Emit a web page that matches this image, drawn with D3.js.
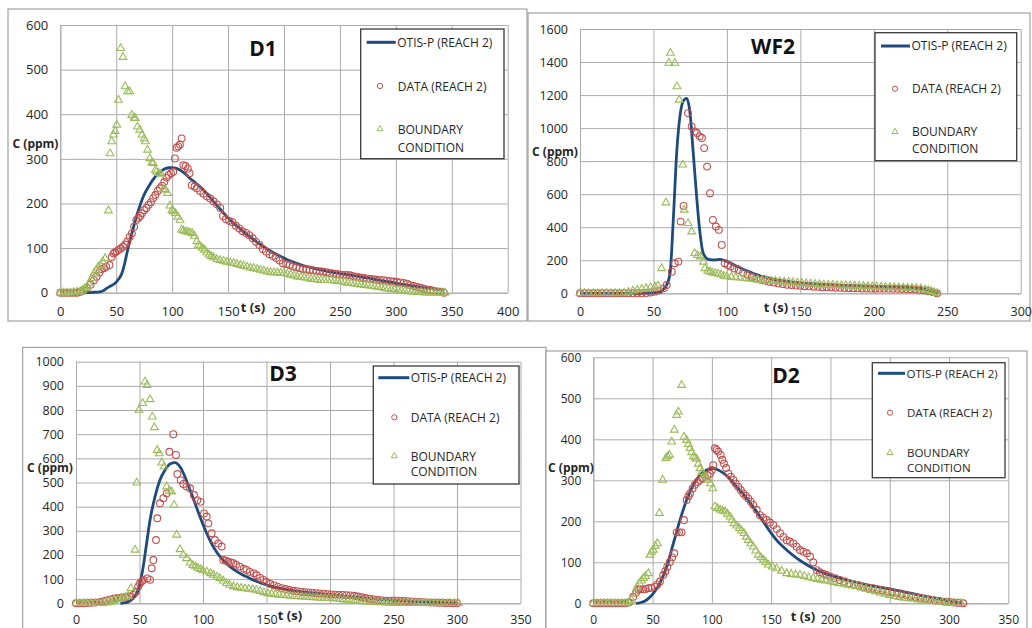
<!DOCTYPE html>
<html>
<head>
<meta charset="utf-8">
<script src="https://cdn.jsdelivr.net/npm/d3@7"></script>
<style>
  html, body { margin: 0; padding: 0; background: #fff; }
  svg { display: block; font-family: "Open Sans", "DejaVu Sans", sans-serif; }
</style>
</head>
<body>
<svg id="chart" width="1032" height="628"></svg>
<script>
// ---- data: [t (s), C (ppm)] ----
const seriesNames = ["OTIS-P (REACH 2)", "DATA (REACH 2)", "BOUNDARY", "CONDITION"];

const d1XTicks = [0, 50, 100, 150, 200, 250, 300, 350, 400];
const d1YTicks = [0, 100, 200, 300, 400, 500, 600];
const d1Model = [[20,0],[25,0],[30,1],[35,2],[38,4],[41,9],[45,15],[49,21],[52,30],[55,43],[57,60],[59.5,88],[62,115],[64,133],[66,152],[68,170],[70,186],[73,208],[76,225],[79,238],[82,250],[85,260],[88,268],[91,274],[94,278],[97,280],[100,280],[103,279],[107,275],[111,268],[116,256],[121,246],[126,235],[131,222],[137,204],[143,187],[149,170],[155,156],[161,143],[167,130],[173,119],[179,108],[185,98],[191,89],[197,81],[203,74],[210,67],[217,61],[225,56],[235,50],[245,45],[255,41],[265,37],[275,33],[285,28],[295,24],[305,19],[315,15],[325,11],[335,8],[343,6]];
const d1Data = [[0,0],[3,0],[6,0],[9,0],[12,0],[15,0],[18,2],[21,5],[24,10],[27,18],[30,28],[32.5,36],[35,45],[37,53],[39,55],[41,58],[44,62],[46,80],[47.5,88],[49,90],[50.5,93],[52,96],[54,99],[56,103],[58,108],[60,115],[62,125],[64,133],[66,148],[68,163],[70,168],[71.5,172],[73,178],[75,185],[77,190],[79,197],[81,203],[83,212],[85,219],[87,228],[89,234],[91,240],[93,248],[95,258],[97,264],[99,268],[101,271],[102.5,301],[104,325],[105.5,328],[107,332],[108.5,346],[110,286],[112,284],[114,278],[115.5,268],[117.5,241],[120,238],[122,234],[125,228],[128,222],[131,216],[134,211],[137,205],[140,198],[143,190],[145.5,172],[148,165],[151,161],[154,158],[157,150],[160,144],[163,138],[166,134],[169,129],[172,122],[175,114],[178,107],[181,98],[184,92],[187,86],[190,82],[193,78],[196,72],[199,66],[202,64],[205,62],[208,59],[211,57],[214,55],[217,53],[220,52],[223,51],[226,50],[229,49],[232,48],[235,47],[238,46],[241,44],[244,43],[247,42],[250,41],[253,40],[256,40],[259,39],[262,37],[265,36],[268,34],[271,33],[274,32],[277,31],[280,30],[283,29],[286,28],[289,28],[292,27],[295,26],[298,25],[301,24],[304,23],[307,22],[310,20],[313,17],[316,15],[319,13],[322,11],[325,9],[328,7],[331,6],[334,4],[337,3],[340,2],[343,0]];
const d1Boundary = [[0,0],[3,0],[6,0],[9,0],[12,1],[15,2],[18,3],[20,6],[22,10],[24,14],[26,22],[28,32],[30,43],[32,50],[34,58],[36,62],[38,70],[40,77],[43,184],[44.5,312],[46,339],[47.5,354],[49,362],[50.5,376],[52,432],[54,548],[56,528],[58,462],[60,451],[62,451],[64,398],[66,392],[67,391],[69,372],[71,365],[73,354],[75,345],[76,339],[78,320],[80,301],[82,292],[83,290],[85,275],[86,271],[88,268],[90,266],[92,232],[94,230],[96,223],[98,195],[100,185],[101,182],[103,178],[105,170],[107,163],[108.5,141],[110,139],[112,137],[114,136],[116,135],[118,133],[120,127],[122,115],[123.5,107],[125,104],[127,100],[129,96],[131,90],[133,85],[135,82],[137,79],[140,75],[143,73],[146,71],[149,69],[152,67],[155,66],[158,64],[161,62],[164,60],[167,58],[170,56],[173,55],[176,53],[179,51],[182,49],[185,47],[188,46],[191,45],[194,45],[197,44],[200,44],[203,42],[206,40],[209,38],[212,36],[215,35],[218,34],[221,33],[224,31],[227,30],[230,29],[233,28],[236,28],[239,28],[242,28],[245,27],[248,26],[251,25],[254,24],[257,22],[260,21],[263,20],[266,19],[269,18],[272,17],[275,16],[278,15],[281,14],[284,13],[287,12],[290,10],[293,9],[296,8],[299,7],[302,6],[305,5],[308,4],[311,3],[314,2],[317,2],[320,1],[323,1],[326,0],[329,0],[332,0],[335,0],[338,0],[341,0],[344,0]];

const wf2XTicks = [0, 50, 100, 150, 200, 250, 300];
const wf2YTicks = [0, 200, 400, 600, 800, 1000, 1200, 1400, 1600];
const wf2Model = [[0,0],[20,0],[40,0],[50,2],[55,10],[57,25],[59,50],[61.3,121],[63.5,444],[65.8,848],[68,1070],[70.8,1171],[72.6,1180],[74.9,1091],[77.1,848],[79.4,585],[81.7,364],[83.9,242],[87.3,206],[91.9,202],[95,205],[98,200],[101,190],[104,176],[107,163],[110,150],[114,135],[118,120],[122,108],[127,95],[132,85],[138,76],[145,68],[152,62],[160,57],[170,52],[180,48],[190,45],[200,42],[210,39],[220,36],[228,32],[234,25],[238,17],[241,9],[244,2]];
const wf2Data = [[0,0],[3,0],[6,0],[9,0],[12,0],[15,0],[18,0],[21,0],[24,0],[27,0],[30,0],[33,0],[36,0],[39,0],[42,0],[45,2],[48,5],[51,10],[54,18],[57,30],[59,50],[62.5,131],[64.5,182],[67,192],[68.5,434],[70.5,529],[73.5,1091],[76,1010],[78,980],[79.5,970],[81.5,950],[83,940],[84.5,879],[86.5,767],[88.5,606],[90.5,444],[92.5,404],[94.5,384],[96.5,293],[98.5,182],[100.5,172],[102.5,162],[105,150],[108,141],[111,125],[114,112],[117,100],[120,90],[123,82],[126,76],[129,70],[132,65],[135,60],[138,56],[141,52],[144,50],[147,47],[150,45],[153,43],[156,42],[159,40],[162,39],[165,37],[168,36],[171,35],[174,34],[177,33],[180,32],[183,31],[186,30],[189,30],[192,29],[195,29],[198,28],[201,28],[204,28],[207,28],[210,28],[213,27],[216,27],[219,26],[222,26],[225,25],[228,24],[231,22],[234,18],[237,14],[240,8],[243,0]];
const wf2Boundary = [[0,0],[3,0],[6,0],[9,0],[12,0],[15,0],[18,0],[21,0],[24,0],[27,0],[30,2],[33,8],[36,15],[39,20],[42,25],[45,30],[48,35],[51,40],[53,45],[55.5,151],[58.5,549],[60.5,1394],[61.5,1455],[64.5,1394],[66,1252],[67.5,1171],[70,778],[71,505],[73.5,424],[76,373],[78,242],[80,230],[82,222],[84,190],[85,151],[87,135],[88.5,131],[90,125],[92,121],[94,118],[96,112],[98,105],[100,102],[103,98],[106,96],[109,94],[112,91],[115,88],[118,85],[121,82],[124,80],[127,78],[130,76],[133,74],[136,72],[139,70],[142,68],[145,66],[148,64],[151,62],[154,60],[157,58],[160,56],[163,54],[166,52],[169,51],[172,50],[175,49],[178,48],[181,47],[184,46],[187,45],[190,44],[193,43],[196,42],[199,41],[202,40],[205,39],[208,38],[211,37],[214,36],[217,35],[220,34],[223,33],[226,32],[229,30],[232,28],[235,22],[237,18],[239,12],[241,6],[243,0]];

const d3XTicks = [0, 50, 100, 150, 200, 250, 300, 350];
const d3YTicks = [0, 100, 200, 300, 400, 500, 600, 700, 800, 900, 1000];
const d3Model = [[35,0],[40,4],[45,21],[49,55],[52.5,138],[55.6,248],[58.3,345],[62.2,441],[66.1,510],[70.1,552],[74,577],[78,582],[81.9,565],[85.8,524],[89.8,469],[93.7,414],[97.6,358],[102.9,290],[108.1,234],[113.4,193],[121.3,152],[129,124],[137,103],[143,89],[150,76],[158,65],[167,56],[176,48],[189,41],[202,35],[215,28],[229,21],[242,15],[255,11],[268,7],[281,4],[292,2],[301,0]];
const d3Data = [[0,0],[3,0],[6,0],[9,1],[12,2],[15,3],[18,5],[21,8],[24,12],[27,16],[30,20],[33,22],[36,24],[39,26],[42,28],[45,35],[47.2,48],[49,70],[50.4,83],[52,92],[53,97],[56.2,103],[58.3,97],[59.6,145],[60.9,179],[63,262],[64,352],[66.1,414],[68.8,435],[71.4,455],[73.5,627],[76.6,700],[78.7,614],[79.8,535],[82.4,510],[84.5,494],[87.1,483],[89.8,476],[92.9,448],[95.5,427],[98.1,420],[100.8,372],[102.9,359],[104.2,331],[106.8,290],[109.4,262],[112,248],[114.7,235],[116,179],[118,176],[119.9,172],[122,169],[123.9,166],[126,160],[129,152],[132,143],[134.3,138],[137,130],[140,124],[142.3,116],[145,105],[147.6,97],[150,88],[153,80],[156,74],[159,68],[162,63],[165,59],[168,55],[171,52],[174,50],[177,48],[180,46],[183,45],[186,44],[189,42],[192,41],[195,40],[198,38],[201,37],[204,36],[207,35],[210,35],[213,34],[216,33],[219,31],[222,28],[225,25],[228,22],[231,19],[234,17],[237,15],[240,13],[243,11],[246,11],[249,11],[252,11],[255,10],[258,10],[261,9],[264,8],[267,7],[270,6],[273,5],[276,4],[279,3],[282,3],[285,2],[288,2],[291,1],[294,1],[297,0],[300,0]];
const d3Boundary = [[0,0],[3,0],[6,0],[9,0],[12,0],[15,0],[18,0],[21,0],[24,2],[27,6],[30,12],[33,18],[36,22],[39,26],[41,30],[43.3,62],[46.5,221],[47.8,499],[49.6,800],[52.5,828],[54.3,917],[56,903],[58.3,844],[60.1,772],[61.7,728],[64,634],[65.6,620],[67.5,582],[69.3,565],[71.4,483],[73.5,466],[75.3,462],[77.2,407],[79.3,283],[81.9,223],[84.5,200],[87.1,186],[89.8,168],[92,158],[94,152],[96,146],[98,141],[100,136],[103,131],[106,124],[108,117],[111,110],[113.4,103],[116,93],[118.6,83],[121,76],[124,70],[127,66],[130,63],[133,61],[136,59],[139,57],[142,55],[145,50],[148,45],[151,41],[154,39],[157,37],[160,35],[163,33],[166,32],[169,30],[172,29],[175,28],[178,27],[181,26],[184,25],[187,24],[190,23],[193,22],[196,22],[199,21],[202,21],[205,19],[208,17],[211,15],[214,14],[217,12],[220,11],[223,9],[226,8],[229,7],[232,6],[235,5],[238,4],[241,3],[244,2],[247,1],[250,0],[253,0],[256,0],[259,0],[262,0],[265,0],[268,0],[271,0],[274,0],[277,0],[280,0],[283,0],[286,0],[289,0],[292,0],[295,0],[298,0],[301,0]];

const d2XTicks = [0, 50, 100, 150, 200, 250, 300, 350];
const d2YTicks = [0, 100, 200, 300, 400, 500, 600];
const d2Model = [[36,0],[40,2],[45,8],[50.6,24],[56.2,49],[61.9,89],[67.5,146],[73.1,203],[78.7,252],[84.3,289],[90,313],[95.6,325],[101.2,329],[106.8,323],[112.5,311],[120.9,284],[129.4,256],[137.8,223],[146.2,187],[154.6,154],[163.1,130],[171.5,110],[180,94],[188.4,81],[200,68],[212,58],[225,49],[237,41],[250,35],[262,28],[275,20],[287,13],[300,6],[310,1]];
const d2Data = [[0,0],[3,0],[6,0],[9,0],[12,0],[15,0],[18,0],[21,0],[24,0],[27,0],[30,2],[33.7,16],[36,26],[38,33],[40,34],[42.2,34],[44.3,35],[46.4,37],[49,38],[52,40],[54,46],[56.2,53],[59,69],[60.7,78],[62.4,89],[64.6,101],[66.5,112],[68.3,122],[70.3,173],[72.4,173],[74.5,173],[76.5,203],[78.7,252],[80.2,261],[81.6,268],[83.7,280],[85.8,289],[88,296],[90,301],[92.1,305],[94.2,309],[96.3,312],[98.4,316],[100,325],[101.2,337],[102.6,378],[104,374],[105.4,370],[107.4,362],[108.8,350],[110.2,341],[112,330],[113.9,317],[116,309],[118.1,301],[120.2,292],[122.3,284],[124.4,276],[126.5,268],[128.6,262],[130.7,256],[132.8,248],[134.9,240],[137.8,228],[140.6,215],[143.4,209],[146.2,203],[149,197],[151.9,191],[154.7,181],[157.5,171],[160.3,162],[163.1,154],[165.9,150],[168.7,146],[171.5,138],[174.3,130],[177.2,126],[180,122],[182.8,114],[185.5,100],[188.4,81],[191,76],[193.8,72],[196.8,69],[200,65],[204,61],[208,57],[212,53],[216,49],[220,46],[224,43],[228,40],[232,38],[236,37],[240,34],[244,32],[248,29],[252,27],[256,25],[260,22],[264,20],[268,17],[272,15],[276,13],[280,11],[284,9],[288,7],[292,6],[296,4],[300,3],[304,2],[308,1],[312,0]];
const d2Boundary = [[0,0],[3,0],[6,0],[9,0],[12,0],[15,0],[18,0],[21,0],[24,0],[27,0],[30,2],[32.4,8],[35.2,24],[37,40],[38.8,49],[40.5,55],[42.2,61],[44,66],[46.4,73],[47.8,118],[49.2,125],[50.6,130],[52.3,140],[54,146],[55.7,220],[58.5,301],[61.3,354],[62.7,358],[64.2,362],[66.1,394],[68.3,423],[70.3,459],[71.7,467],[74.5,532],[76.5,406],[78.7,398],[80.2,388],[81.6,378],[83,368],[84.4,358],[85.8,355],[87.2,352],[88.6,340],[90,329],[91.7,320],[93.4,313],[95.2,307],[97,301],[98.8,292],[100.7,280],[102.6,236],[104.7,232],[106.9,228],[109,226],[111.1,224],[113.2,218],[115.3,211],[117,203],[118.7,195],[121,189],[123.2,183],[125.1,177],[127.1,171],[129,162],[130.7,154],[132.8,146],[134.9,138],[137,128],[139.2,118],[141.3,112],[143.4,106],[145.5,100],[147.6,94],[151,89],[154.6,85],[158.8,79],[163.1,73],[167,71],[170.6,70],[174.3,69],[177.9,66],[181.5,63],[185.5,61],[189,59],[192.5,57],[196,55],[199.6,53],[203,51],[207,49],[211,47],[215,45],[218.5,43],[222,41],[226,38],[230,35],[234,32],[238,29],[242,26],[246,23],[250,20],[254,17],[258,15],[262,13],[266,12],[270,11],[274,9],[278,8],[282,6],[286,5],[290,4],[294,3],[298,2],[302,1],[306,0],[310,0]];

// ---- layout (pixel positions) ----
const panels = [
  { title: "D1", model: d1Model, data: d1Data, boundary: d1Boundary, xTicks: d1XTicks, yTicks: d1YTicks,
    frame: [8, 9, 527, 321], plot: [60.3, 25, 507.7, 292.7], tickFont: 13, xLabelDy: 19,
    titlePos: [263, 48], cLabel: [35.5, 143], tLabel: [253, 307],
    legend: { box: [360.7, 29, 504, 158.7], line: [6, 35], symX: 19.3, rows: [13.3, 57, 100, 118], textX: 37, font: 12 } },
  { title: "WF2", model: wf2Model, data: wf2Data, boundary: wf2Boundary, xTicks: wf2XTicks, yTicks: wf2YTicks,
    frame: [528, 13, 1030, 321], plot: [580, 29, 1020.7, 293.3], tickFont: 12.5, xLabelDy: 18.5,
    titlePos: [773, 46], cLabel: [555, 151], tLabel: [776, 307],
    legend: { box: [875, 32.7, 1016.7, 160.7], line: [6, 35], symX: 20, rows: [13.3, 56, 99, 116], textX: 37, font: 12 } },
  { title: "D3", model: d3Model, data: d3Data, boundary: d3Boundary, xTicks: d3XTicks, yTicks: d3YTicks,
    frame: [22.7, 347.3, 546, 640], plot: [76, 361.7, 520.5, 603.3], tickFont: 12.5, xLabelDy: 16.5,
    titlePos: [283, 373], cLabel: [50, 467], tLabel: [290, 615],
    legend: { box: [373.3, 366, 519, 484], line: [5, 36], symX: 21, rows: [11.7, 51.3, 90, 105.7], textX: 37.4, font: 12 } },
  { title: "D2", model: d2Model, data: d2Data, boundary: d2Boundary, xTicks: d2XTicks, yTicks: d2YTicks,
    frame: [546, 351, 1027, 640], plot: [593.3, 357.3, 1008.3, 603.3], tickFont: 12, xLabelDy: 16.5,
    titlePos: [786, 375], cLabel: [571, 467], tLabel: [803, 616],
    legend: { box: [872.3, 362.7, 1005, 477.7], line: [5.7, 32.7], symX: 17.7, rows: [10.6, 50, 90, 105], textX: 34.7, font: 11.5 } }
];

const lineColor = "#1f4a7c";
const dataColor = "#c0504d";
const boundaryColor = "#9bbb59";
const gridColor = "#ababab";
const textColor = "#262626";

const svg = d3.select("#chart");

function drawPanel(p) {
  const [pl, pt, pr, pb] = p.plot;
  const x = d3.scaleLinear().domain([0, d3.max(p.xTicks)]).range([pl, pr]);
  const y = d3.scaleLinear().domain([0, d3.max(p.yTicks)]).range([pb, pt]);
  const g = svg.append("g");

  // outer chart frame
  const [fx0, fy0, fx1, fy1] = p.frame;
  g.append("rect")
      .attr("x", fx0).attr("y", fy0)
      .attr("width", fx1 - fx0).attr("height", fy1 - fy0)
      .attr("fill", "#fff")
      .attr("stroke", "#8f8f8f")
      .attr("stroke-width", 1);

  // gridlines + tick labels
  g.append("g")
      .attr("transform", `translate(${pl},0)`)
      .call(d3.axisLeft(y).tickValues(p.yTicks).tickFormat(d3.format("d"))
          .tickSize(-(pr - pl)).tickSizeOuter(0).tickPadding(12))
      .call(a => a.select(".domain").attr("stroke", gridColor))
      .call(a => a.selectAll(".tick line").attr("stroke", gridColor))
      .call(a => a.selectAll(".tick text")
          .attr("fill", textColor)
          .attr("font-size", p.tickFont)
          .attr("font-family", "Open Sans"));

  g.append("g")
      .attr("transform", `translate(0,${pb})`)
      .call(d3.axisBottom(x).tickValues(p.xTicks).tickFormat(d3.format("d"))
          .tickSize(-(pb - pt)).tickSizeOuter(0))
      .call(a => a.select(".domain").attr("stroke", gridColor))
      .call(a => a.selectAll(".tick line").attr("stroke", gridColor))
      .call(a => a.selectAll(".tick text")
          .attr("y", p.xLabelDy)
          .attr("dy", "0.35em")
          .attr("fill", textColor)
          .attr("font-size", p.tickFont)
          .attr("font-family", "Open Sans"));

  // model curve
  const line = d3.line()
      .curve(d3.curveMonotoneX)
      .x(d => x(d[0]))
      .y(d => y(d[1]));

  g.append("path")
      .datum(p.model)
      .attr("fill", "none")
      .attr("stroke", lineColor)
      .attr("stroke-width", 2.8)
      .attr("stroke-linejoin", "round")
      .attr("d", line);

  // measured data (hollow circles)
  g.append("g")
    .selectAll("circle")
    .data(p.data)
    .join("circle")
      .attr("cx", d => x(d[0]))
      .attr("cy", d => y(d[1]))
      .attr("r", 3.4)
      .attr("fill", "none")
      .attr("stroke", dataColor)
      .attr("stroke-width", 1.1);

  // boundary condition (hollow triangles)
  const tri = d3.symbol(d3.symbolTriangle, 26);
  g.append("g")
    .selectAll("path")
    .data(p.boundary)
    .join("path")
      .attr("transform", d => `translate(${x(d[0])},${y(d[1])})`)
      .attr("d", tri)
      .attr("fill", "none")
      .attr("stroke", boundaryColor)
      .attr("stroke-width", 1.1);

  // texts
  g.append("text")
      .attr("x", p.titlePos[0]).attr("y", p.titlePos[1])
      .attr("text-anchor", "middle").attr("dominant-baseline", "central")
      .attr("font-size", 21).attr("font-weight", "bold")
      .attr("fill", "#111")
      .text(p.title);

  g.append("text")
      .attr("x", p.cLabel[0]).attr("y", p.cLabel[1])
      .attr("text-anchor", "middle").attr("dominant-baseline", "central")
      .attr("font-size", 12).attr("font-weight", "bold")
      .attr("fill", textColor)
      .text("C (ppm)");

  g.append("text")
      .attr("x", p.tLabel[0]).attr("y", p.tLabel[1])
      .attr("text-anchor", "middle").attr("dominant-baseline", "central")
      .attr("font-size", 13).attr("font-weight", "bold")
      .attr("fill", textColor)
      .text("t (s)");

  drawLegend(g, p.legend);
}

function drawLegend(g, lg) {
  const [bx0, by0, bx1, by1] = lg.box;
  const leg = g.append("g").attr("transform", `translate(${bx0},${by0})`);

  leg.append("rect")
      .attr("width", bx1 - bx0).attr("height", by1 - by0)
      .attr("fill", "#fff")
      .attr("stroke", "#3a3a3a")
      .attr("stroke-width", 1.3);

  leg.append("line")
      .attr("x1", lg.line[0]).attr("x2", lg.line[1])
      .attr("y1", lg.rows[0]).attr("y2", lg.rows[0])
      .attr("stroke", lineColor)
      .attr("stroke-width", 3);

  leg.append("circle")
      .attr("cx", lg.symX).attr("cy", lg.rows[1])
      .attr("r", 2.6)
      .attr("fill", "none")
      .attr("stroke", dataColor);

  leg.append("path")
      .attr("transform", `translate(${lg.symX},${lg.rows[2]})`)
      .attr("d", d3.symbol(d3.symbolTriangle, 16))
      .attr("fill", "none")
      .attr("stroke", boundaryColor);

  leg.selectAll("text.item")
    .data(seriesNames)
    .join("text")
      .attr("class", "item")
      .attr("x", (d, i) => i === 0 ? lg.line[1] + 1.5 : lg.textX)
      .attr("y", (d, i) => lg.rows[i])
      .attr("dominant-baseline", "central")
      .attr("font-size", lg.font)
      .attr("fill", textColor)
      .text(d => d);
}

panels.forEach(drawPanel);
</script>
</body>
</html>
